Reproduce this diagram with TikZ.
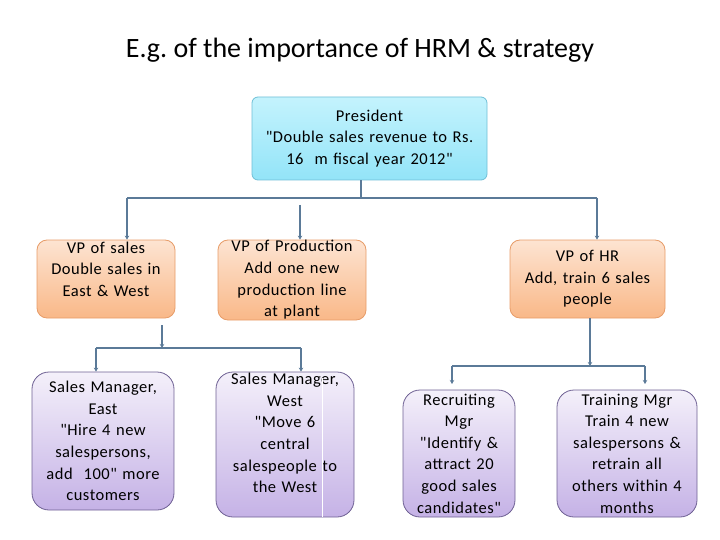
\documentclass[tikz,border=0pt]{standalone}
\usepackage{fontspec}
\setmainfont{Carlito}[LetterSpace=3, Ligatures=TeXOff]
\newfontfamily\titlefont{Carlito}[Ligatures=TeXOff]
\frenchspacing
\usetikzlibrary{arrows.meta}
\definecolor{conn}{HTML}{5B7A98}
\definecolor{presTop}{HTML}{C4F3FD}
\definecolor{presBot}{HTML}{93E4F8}
\definecolor{presLine}{HTML}{6FBFD6}
\definecolor{vpTop}{HTML}{FDE4D2}
\definecolor{vpBot}{HTML}{F9B888}
\definecolor{vpLine}{HTML}{E79C68}
\definecolor{mgTop}{HTML}{F4F0FA}
\definecolor{mgBot}{HTML}{C5B2E6}
\definecolor{mgLine}{HTML}{6E6093}
\tikzset{
  boxtext/.style={font=\fontsize{16.5}{21.6}\selectfont, align=center, inner sep=0pt},
  presbox/.style={boxtext, draw=presLine, line width=0.8pt, top color=presTop, bottom color=presBot, rounded corners=6pt},
  vpbox/.style={boxtext, draw=vpLine, line width=0.8pt, top color=vpTop, bottom color=vpBot, rounded corners=10pt},
  mgbox/.style={boxtext, draw=mgLine, line width=0.8pt, top color=mgTop, bottom color=mgBot, rounded corners=17pt},
  link/.style={draw=conn, line width=1.6pt},
  arr/.style={link, -{Stealth[length=4pt,width=4.5pt]}}
}
\begin{document}
\begin{tikzpicture}[x=1pt,y=-1pt]
\useasboundingbox (0,0) rectangle (720,540);
\node[font=\titlefont\fontsize{28}{32}\selectfont] (title) at (360,50) {E.g. of the importance of HRM \& strategy};

\node[presbox, minimum width=235pt, minimum height=83pt, text width=233pt] (pres) at (369.5,138.5)
  {President\\"Double sales revenue to Rs.\\16\ \ m fiscal year 2012"};

\node[vpbox, minimum width=138pt, minimum height=78pt, text width=136pt] (vps) at (106,279)
  {VP of sales\\Double sales in\\East \& West\rule[-20pt]{0pt}{1pt}};
\node[vpbox, minimum width=148pt, minimum height=80pt, text width=146pt] (vpp) at (292,280)
  {VP of Production\\Add one new\\production line\\at plant};
\node[vpbox, minimum width=155pt, minimum height=78pt, text width=153pt] (vph) at (587.5,279)
  {VP of HR\\Add, train 6 sales\\people};

\node[mgbox, minimum width=142pt, minimum height=138pt, text width=140pt] (sme) at (103,441)
  {Sales Manager,\\East\\"Hire 4 new\\salespersons,\\add\ \ 100" more\\customers};
\node[mgbox, minimum width=138pt, minimum height=145pt, text width=136pt] (smw) at (285,444.5)
  {Sales Manager,\\West\\"Move 6\\central\\salespeople to\\the West\rule[-23pt]{0pt}{1pt}};
\node[mgbox, minimum width=112pt, minimum height=127pt, text width=110pt] (rec) at (459,453.5)
  {Recruiting\\Mgr\\"Identify \&\\attract 20\\good sales\\candidates"};
\node[mgbox, minimum width=140pt, minimum height=127pt, text width=138pt] (trn) at (627,453.5)
  {Training Mgr\\Train 4 new\\salespersons \&\\retrain all\\others within 4\\months};

% white artefact line inside the West box
\draw[white, line width=1pt] (322,378) -- (322,516.5);

% connectors, top level
\coordinate (j1) at (361,198);
\coordinate (j1l) at (127,198);
\coordinate (j1r) at (597,198);
\coordinate (pstart) at (300,205);
\draw[link] (pres.south -| j1) -- (j1);
\draw[link] (j1l) -- (j1r);
\draw[arr] (j1l) -- (vps.north -| j1l);
\draw[arr] (j1r) -- (vph.north -| j1r);
\draw[arr] (pstart) -- (vpp.north -| pstart);

% connectors, sales branch
\coordinate (j2) at (162,348);
\coordinate (j2l) at (96,348);
\coordinate (j2r) at (301,348);
\draw[arr] (162,325) -- (j2);
\draw[link] (j2l) -- (j2r);
\draw[arr] (j2l) -- (sme.north -| j2l);
\draw[arr] (j2r) -- (smw.north -| j2r);

% connectors, HR branch
\coordinate (j3) at (590,366);
\coordinate (j3l) at (452,366);
\coordinate (j3r) at (645,366);
\draw[arr] (vph.south -| j3) -- (j3);
\draw[link] (j3l) -- (j3r);
\draw[arr] (j3l) -- (452,384);
\draw[arr] (j3r) -- (645,384);
\end{tikzpicture}
\end{document}
